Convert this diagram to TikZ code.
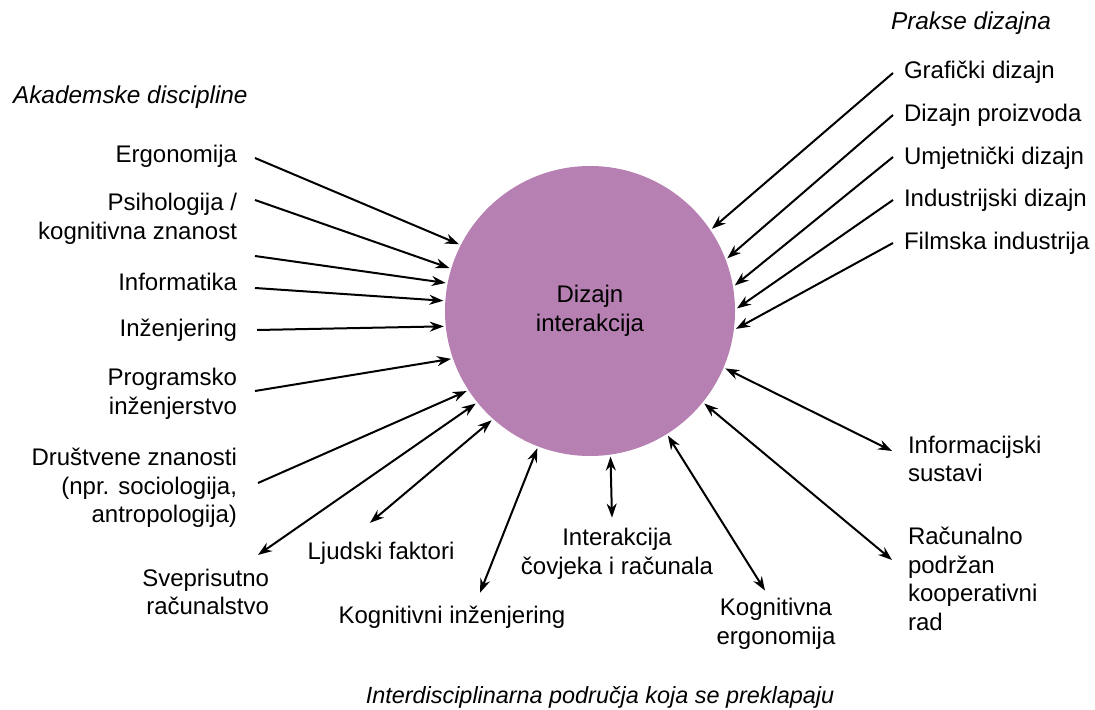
\documentclass[tikz,border=0pt]{standalone}
\usepackage{fontspec}
\setmainfont{Liberation Sans}
\usetikzlibrary{arrows.meta, calc}

\definecolor{hciPurple}{RGB}{182,128,178}

\begin{document}
\begin{tikzpicture}[
    x=0.5pt, y=-0.5pt,
    >={Stealth[length=7pt, width=5pt]}, line width=1pt,
    every node/.style={font=\fontsize{12}{14.25}\selectfont, inner sep=0pt},
    heading/.style={font=\fontsize{12.2}{14.5}\selectfont\itshape},
    field/.style={align=right, anchor=east},
    practice/.style={align=left, anchor=west},
    flow/.style={->},
    twoway/.style={<->}
]
    \useasboundingbox (0,0) rectangle (1095,710);

    % Central circle
    \node[circle, fill=hciPurple, minimum size=145pt, outer sep=1pt, align=center] (dizajn) at (590,311) {Dizajn\\interakcija};

    % Academic disciplines
    \node[heading, anchor=west] (acad) at (12,97) {Akademske discipline};
    \node[field] (ergo) at (238,156) {Ergonomija};
    \node[field] (psih) at (238,219) {Psihologija /\\kognitivna znanost};
    \node[field] (info) at (238,282) {Informatika};
    \node[field] (inz) at (238,330) {Inženjering};
    \node[field] (prog) at (238,394) {Programsko\\inženjerstvo};
    \node[field] (drus) at (238,488) {Društvene znanosti\\(npr. sociologija,\\antropologija)};

    % Design practices
    \node[heading, anchor=west] (prakse) at (890,23) {Prakse dizajna};
    \node[practice] (graf) at (903,72) {Grafički dizajn};
    \node[practice] (proizv) at (903,115) {Dizajn proizvoda};
    \node[practice] (umj) at (903,158) {Umjetnički dizajn};
    \node[practice] (ind) at (903,200) {Industrijski dizajn};
    \node[practice] (film) at (903,243) {Filmska industrija};

    % Overlapping fields
    \node[field] (svep) at (270,592) {Sveprisutno\\računalstvo};
    \node (ljud) at (381,553) {Ljudski faktori};
    \node (koginz) at (452,617) {Kognitivni inženjering};
    \node[align=center] (hci) at (617,554) {Interakcija\\čovjeka i računala};
    \node[align=center] (kogerg) at (776,624) {Kognitivna\\ergonomija};
    \node[practice] (rac) at (907,579) {Računalno\\podržan\\kooperativni\\rad};
    \node[practice] (infosys) at (907,459) {Informacijski\\sustavi};
    \node[heading, font=\fontsize{11.7}{14}\selectfont\itshape] (interd) at (600,697) {Interdisciplinarna područja koja se preklapaju};

    % Disciplines -> circle
    \draw[flow] ($(ergo.east)+(17,2)$) -- (dizajn.153);
    \draw[flow] ($(psih.east)+(17,-19)$) -- (dizajn.163);
    \draw[flow] ($(psih.east)+(17,37)$) -- (dizajn.169);
    \draw[flow] ($(info.east)+(17,6)$) -- (dizajn.176);
    \draw[flow] ($(inz.east)+(19,0)$) -- (dizajn.186);
    \draw[flow] ($(prog.east)+(17,-3)$) -- (dizajn.199);
    \draw[flow] ($(drus.east)+(20,-5)$) -- (dizajn.213);

    % Practices -> circle
    \draw[flow] ($(graf.west)+(-10,1)$) -- (dizajn.34);
    \draw[flow] ($(proizv.west)+(-10,0)$) -- (dizajn.21);
    \draw[flow] ($(umj.west)+(-10,-1)$) -- (dizajn.10);
    \draw[flow] ($(ind.west)+(-10,0)$) -- (dizajn.1);
    \draw[flow] ($(film.west)+(-10,0)$) -- (dizajn.-7);

    % Overlapping fields <-> circle
    \draw[twoway] ($(svep.north east)+(-12,-13)$) -- (dizajn.219);
    \draw[twoway] ($(ljud.north)+(-11,-18)$) -- (dizajn.228);
    \draw[twoway] ($(koginz.north)+(28,-12)$) -- (dizajn.249);
    \draw[twoway] ($(hci.north)+(-5,-10)$) -- (dizajn.278);
    \draw[twoway] ($(kogerg.north)+(-11,-7)$) -- (dizajn.302);
    \draw[twoway] ($(rac.west)+(-15,-19)$) -- (dizajn.321);
    \draw[twoway] ($(infosys.west)+(-15,-8)$) -- (dizajn.337);

\end{tikzpicture}
\end{document}
